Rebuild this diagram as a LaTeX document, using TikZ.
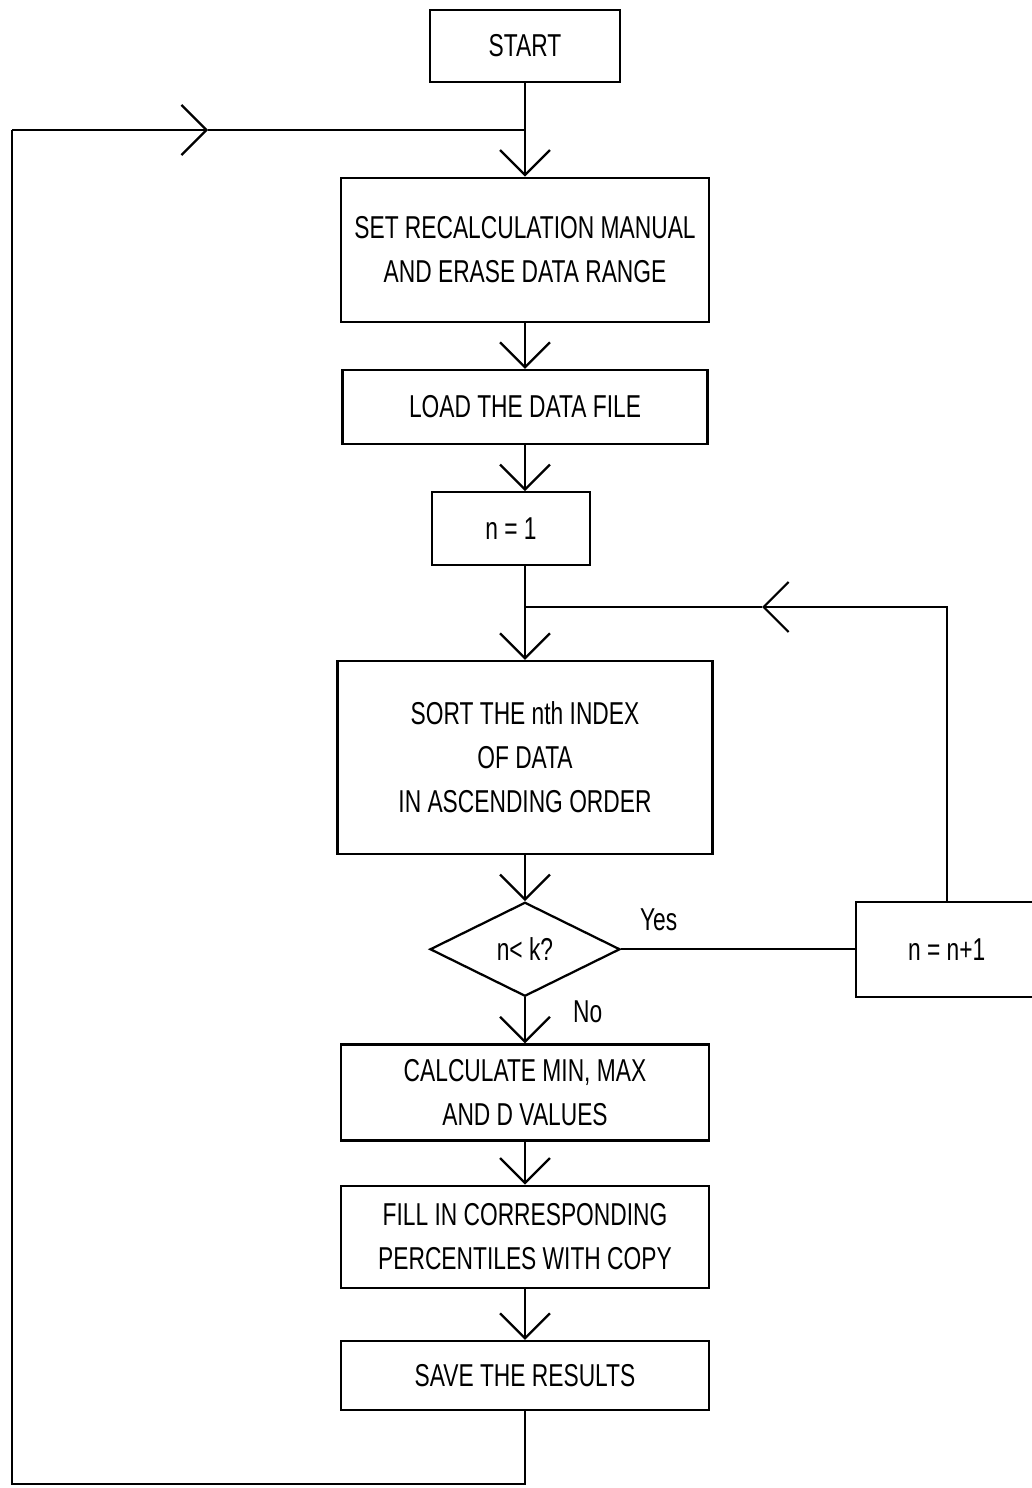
\documentclass[tikz,border=0pt]{standalone}
\usepackage{fontspec}
\setmainfont{Liberation Sans}[FakeStretch=0.72]
\usetikzlibrary{shapes.geometric, arrows.meta}
\usetikzlibrary{positioning}

\begin{document}
\begin{tikzpicture}[node distance=9.2mm,
        % open V heads as in the drawing
        vee/.style={-{Straight Barb[length=5mm,width=10mm]}},
        flow/.style={draw=black,line width=0.45mm},
        box/.style={draw=black,line width=0.45mm,align=center,inner sep=0pt,font=\fontsize{18}{25}\selectfont},
        decision/.style={diamond,draw=black,line width=0.45mm,inner sep=0pt,minimum width=38mm,minimum height=18.8mm,font=\fontsize{18}{25}\selectfont},
        lbl/.style={inner sep=0pt,font=\fontsize{18}{25}\selectfont},]

        \useasboundingbox (0,0) rectangle (206.4mm,-297.6mm);

        \node[box, minimum width=38mm, minimum height=14.4mm] (s_start) at (105mm,-9.2mm) {START};
        \node[box, minimum width=73.6mm, minimum height=28.8mm] (s_1) [below=18.7mm of s_start] {SET RECALCULATION MANUAL\\AND ERASE DATA RANGE};
        \node[box, minimum width=73mm, minimum height=14.8mm] (s_2) [below=of s_1] {LOAD THE DATA FILE};
        \node[box, minimum width=31.6mm, minimum height=14.6mm, xshift=-2.8mm] (s_3) [below=of s_2] {n = 1};
        \node[box, minimum width=75mm, minimum height=38.6mm] (s_4) [below=18.7mm of s_3, xshift=2.8mm] {SORT THE nth INDEX\\OF DATA\\IN ASCENDING ORDER};
        \node[decision] (s_q) [below=of s_4] {n< k?};
        \node[box, minimum width=36.2mm, minimum height=19mm] (s_5) [right=46.8mm of s_q] {n = n+1};
        \node[box, minimum width=73.6mm, minimum height=19.2mm] (s_6) [below=of s_q] {CALCULATE MIN, MAX\\AND D VALUES};
        \node[box, minimum width=73.6mm, minimum height=20.4mm] (s_7) [below=8.6mm of s_6] {FILL IN CORRESPONDING\\PERCENTILES WITH COPY};
        \node[box, minimum width=73.6mm, minimum height=13.8mm] (s_8) [below=10.2mm of s_7] {SAVE THE RESULTS};

        \coordinate (fb_top) at (2.4mm,-26mm);
        \coordinate (fb_join) at (s_start.south |- fb_top);
        \coordinate (fb_mark) at (41.6mm,-26mm);
        \coordinate (fb_bot) at (2.4mm,-296.8mm);
        \coordinate (out_bot) at (s_8.south |- fb_bot);
        \coordinate (lp_join) at (s_4.north |- 0,-121.4mm);
        \coordinate (lp_mark) at (152.4mm,-121.4mm);

        \path[flow] (s_start) -- (fb_join);
        \path[flow, vee] (fb_join) -- (s_1);
        \path[flow, vee] (s_1) -- (s_2);
        \path[flow, vee] (s_2) -- (s_2.south |- s_3.north);
        \path[flow] (lp_join |- s_3.south) -- (lp_join);
        \path[flow, vee] (lp_join) -- (s_4);
        \path[flow, vee] (s_4) -- (s_q);

        \path[flow, vee] (s_q) -- node[lbl, midway, right=9.4mm, yshift=1.8mm] {No} (s_6);
        \path[flow] (s_q) -- node[lbl, pos=0.16, above=3.4mm] {Yes} (s_5);
        \path[flow, vee] (s_5) |- (lp_mark);
        \path[flow] (lp_mark) -- (lp_join);

        \path[flow, vee] (s_6) -- (s_7);
        \path[flow, vee] (s_7) -- (s_8);

        \path[flow] (s_8) -- (out_bot) -- (fb_bot) -- (fb_top);
        \path[flow, vee] (fb_top) -- (fb_mark);
        \path[flow] (fb_mark) -- (fb_join);

    \end{tikzpicture}
\end{document}
